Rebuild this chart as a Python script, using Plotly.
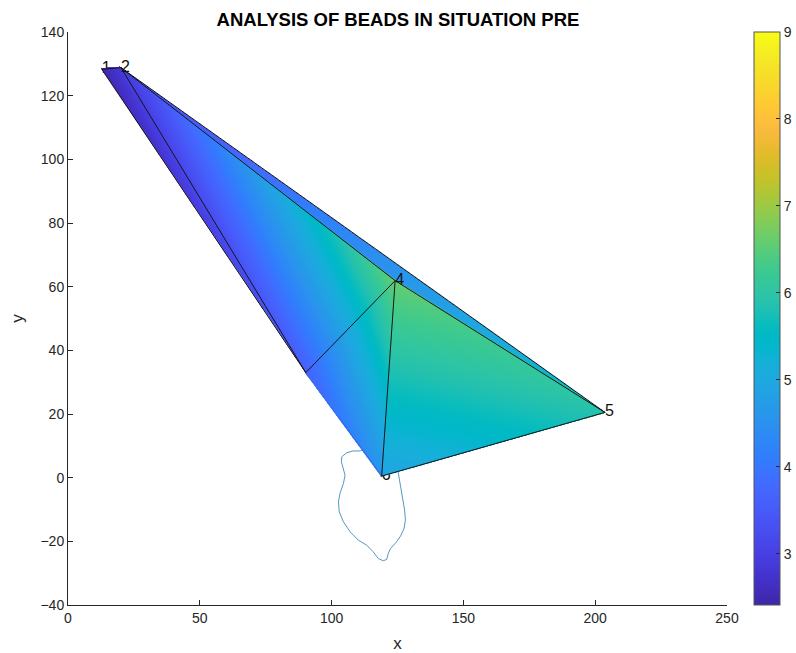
import numpy as np
import plotly.graph_objects as go

# ---------------- data ----------------
point_labels = ["1", "2", "3", "4", "5", "6"]
vertex_x = [12.8, 20.1, 90.2, 124.1, 203.7, 119.0]
vertex_y = [128.3, 128.8, 33.0, 61.9, 20.5, 0.5]

# triangles (0-based vertex indices) and the colour value at each corner
triangles = [(0, 1, 2), (1, 2, 3), (2, 3, 5), (3, 4, 5), (1, 3, 4)]
tri_values = [(2.45, 2.9, 3.5), (2.9, 3.6, 6.6), (3.6, 6.6, 4.6),
              (6.6, 5.9, 4.9), (3.1, 4.6, 5.6)]

# triangle edges drawn in black
edges = [(0, 1), (0, 2), (1, 2), (2, 3), (1, 3), (3, 5), (3, 4), (4, 5), (1, 4)]
# outer edge without a black line
soft_edges = [(2, 5)]

# outline curve below the mesh
outline_x = [110.8, 108.2, 105.7, 103.9, 103.7, 104.5, 105.1, 104.5, 103.2, 102.6,
             102.9, 104.5, 107.0, 110.1, 113.3, 115.8, 117.7, 119.6, 120.9, 121.5,
             122.4, 124.4, 126.2, 127.5, 128.0, 127.7, 126.9, 126.2, 125.7, 125.3,
             124.0, 120.0, 115.0, 110.8]
outline_y = [8.4, 8.4, 7.8, 6.6, 5.0, 2.9, 0.8, -1.8, -4.9, -7.6,
             -10.7, -13.9, -17.0, -19.6, -21.2, -23.3, -25.4, -26.1, -25.7, -23.8,
             -22.2, -20.4, -18.3, -15.9, -13.3, -10.2, -6.5, -3.4, -0.8, 1.5,
             6.0, 9.5, 10.0, 8.4]

labels_on_top = ["2", "4", "5"]

x_ticks = [0, 50, 100, 150, 200, 250]
y_ticks = [-40, -20, 0, 20, 40, 60, 80, 100, 120, 140]
c_ticks = [3, 4, 5, 6, 7, 8, 9]
c_min, c_max = 2.41, 9.0

# ---------------- parula colormap ----------------
parula = [
    (0.2422, 0.1504, 0.6603), (0.2504, 0.1650, 0.7076), (0.2578, 0.1818, 0.7511),
    (0.2647, 0.1978, 0.7952), (0.2706, 0.2147, 0.8364), (0.2751, 0.2342, 0.8710),
    (0.2783, 0.2559, 0.8991), (0.2803, 0.2782, 0.9221), (0.2813, 0.3006, 0.9414),
    (0.2810, 0.3228, 0.9579), (0.2795, 0.3447, 0.9717), (0.2760, 0.3667, 0.9829),
    (0.2699, 0.3892, 0.9906), (0.2602, 0.4123, 0.9952), (0.2440, 0.4358, 0.9988),
    (0.2206, 0.4603, 0.9973), (0.1963, 0.4847, 0.9892), (0.1834, 0.5074, 0.9798),
    (0.1786, 0.5289, 0.9682), (0.1764, 0.5499, 0.9520), (0.1687, 0.5703, 0.9359),
    (0.1540, 0.5902, 0.9218), (0.1460, 0.6091, 0.9079), (0.1380, 0.6276, 0.8973),
    (0.1248, 0.6459, 0.8883), (0.1113, 0.6635, 0.8763), (0.0952, 0.6798, 0.8598),
    (0.0689, 0.6948, 0.8394), (0.0297, 0.7082, 0.8163), (0.0036, 0.7203, 0.7917),
    (0.0067, 0.7312, 0.7660), (0.0433, 0.7411, 0.7394), (0.0964, 0.7500, 0.7120),
    (0.1408, 0.7584, 0.6842), (0.1717, 0.7670, 0.6554), (0.1938, 0.7758, 0.6251),
    (0.2161, 0.7843, 0.5923), (0.2470, 0.7918, 0.5567), (0.2906, 0.7973, 0.5188),
    (0.3406, 0.8008, 0.4789), (0.3909, 0.8029, 0.4354), (0.4456, 0.8024, 0.3909),
    (0.5044, 0.7993, 0.3480), (0.5616, 0.7942, 0.3045), (0.6174, 0.7876, 0.2612),
    (0.6720, 0.7793, 0.2227), (0.7242, 0.7698, 0.1910), (0.7738, 0.7598, 0.1646),
    (0.8203, 0.7498, 0.1535), (0.8634, 0.7406, 0.1596), (0.9035, 0.7330, 0.1774),
    (0.9393, 0.7288, 0.2100), (0.9728, 0.7298, 0.2394), (0.9956, 0.7434, 0.2371),
    (0.9970, 0.7659, 0.2199), (0.9952, 0.7893, 0.2028), (0.9892, 0.8136, 0.1885),
    (0.9786, 0.8386, 0.1766), (0.9676, 0.8639, 0.1643), (0.9610, 0.8890, 0.1537),
    (0.9597, 0.9135, 0.1423), (0.9628, 0.9373, 0.1265), (0.9691, 0.9606, 0.1064),
    (0.9769, 0.9839, 0.0805)]
n = len(parula)
colorscale = [[i / (n - 1), "rgb(%d,%d,%d)" % tuple(round(c * 255) for c in rgb)]
              for i, rgb in enumerate(parula)]

# ---------------- shaded mesh (linear shading inside each triangle) ----------------
gx = np.arange(min(vertex_x) - 0.5, max(vertex_x) + 0.5, 0.38)
gy = np.arange(min(vertex_y) - 0.5, max(vertex_y) + 0.5, 0.315)
GX, GY = np.meshgrid(gx, gy)
Z = np.full(GX.shape, np.nan)
eps = 0.004
for (a, b, c), (va, vb, vc) in zip(triangles, tri_values):
    x1, y1 = vertex_x[a], vertex_y[a]
    x2, y2 = vertex_x[b], vertex_y[b]
    x3, y3 = vertex_x[c], vertex_y[c]
    det = (y2 - y3) * (x1 - x3) + (x3 - x2) * (y1 - y3)
    l1 = ((y2 - y3) * (GX - x3) + (x3 - x2) * (GY - y3)) / det
    l2 = ((y3 - y1) * (GX - x3) + (x1 - x3) * (GY - y3)) / det
    l3 = 1 - l1 - l2
    inside = (l1 >= -eps) & (l2 >= -eps) & (l3 >= -eps) & np.isnan(Z)
    Z[inside] = (l1 * va + l2 * vb + l3 * vc)[inside]
Z = np.round(Z, 3)

fig = go.Figure()

label_font = dict(family="Liberation Sans, Arial, sans-serif", size=16, color="#111111")

# bottom layer: outline + occluded labels
fig.add_trace(go.Scatter(x=outline_x, y=outline_y, mode="lines",
                         line=dict(color="#5499c2", width=1), hoverinfo="skip",
                         showlegend=False))
low_idx = [i for i, t in enumerate(point_labels) if t not in labels_on_top]
fig.add_trace(go.Scatter(x=[vertex_x[i] for i in low_idx], y=[vertex_y[i] for i in low_idx],
                         text=[point_labels[i] for i in low_idx], mode="text",
                         textposition="middle right", textfont=label_font,
                         showlegend=False, hoverinfo="skip"))

# top layer: mesh, edges, visible labels
fig.add_trace(go.Heatmap(x=gx, y=gy, z=Z, coloraxis="coloraxis", xaxis="x2", yaxis="y2",
                         zsmooth="fast", hoverongaps=False))
sx, sy = [], []
for a, b in soft_edges:
    sx += [vertex_x[a], vertex_x[b], None]
    sy += [vertex_y[a], vertex_y[b], None]
fig.add_trace(go.Scatter(x=sx, y=sy, mode="lines", line=dict(color="rgb(48,112,236)", width=1.4),
                         xaxis="x2", yaxis="y2", showlegend=False, hoverinfo="skip"))
ex, ey = [], []
for a, b in edges:
    ex += [vertex_x[a], vertex_x[b], None]
    ey += [vertex_y[a], vertex_y[b], None]
fig.add_trace(go.Scatter(x=ex, y=ey, mode="lines", line=dict(color="#151515", width=1),
                         xaxis="x2", yaxis="y2", showlegend=False, hoverinfo="skip"))
top_idx = [i for i, t in enumerate(point_labels) if t in labels_on_top]
fig.add_trace(go.Scatter(x=[vertex_x[i] for i in top_idx], y=[vertex_y[i] for i in top_idx],
                         text=[point_labels[i] for i in top_idx], mode="text",
                         textposition="middle right", textfont=label_font,
                         xaxis="x2", yaxis="y2", showlegend=False, hoverinfo="skip"))

axis_color = "#262626"
font_family = "Liberation Sans, Arial, sans-serif"
common = dict(showline=True, linecolor=axis_color, linewidth=1, ticks="inside", ticklen=5,
              tickcolor=axis_color, showgrid=False, zeroline=False,
              tickfont=dict(family=font_family, size=14, color=axis_color))

fig.update_layout(
    width=796, height=653,
    margin=dict(l=68, r=69, t=32, b=48, autoexpand=False),
    paper_bgcolor="white", plot_bgcolor="white",
    title=dict(text="<b>ANALYSIS OF BEADS IN SITUATION PRE</b>", x=0.5, xanchor="center",
               y=1 - 20 / 653, yanchor="middle",
               font=dict(family=font_family, size=18.5, color="#000000")),
    xaxis=dict(range=[0, 250], tickvals=x_ticks,
               title=dict(text="x", standoff=14, font=dict(family=font_family, size=17,
                                                           color=axis_color)), **common),
    yaxis=dict(range=[-40, 140], tickvals=y_ticks,
               title=dict(text="y", standoff=12, font=dict(family=font_family, size=17,
                                                           color=axis_color)), **common),
    xaxis2=dict(overlaying="x", range=[0, 250], visible=False, anchor="y2"),
    yaxis2=dict(overlaying="y", range=[-40, 140], visible=False, anchor="x2"),
    coloraxis=dict(colorscale=colorscale, cmin=c_min, cmax=c_max,
                   colorbar=dict(x=(754 - 68) / 659, xanchor="left", xpad=0, ypad=0,
                                 y=0.5, yanchor="middle", len=1, lenmode="fraction",
                                 thickness=26, thicknessmode="pixels",
                                 outlinewidth=1, outlinecolor="#555555",
                                 tickvals=c_ticks, ticks="inside", ticklen=4,
                                 tickcolor=axis_color,
                                 tickfont=dict(family=font_family, size=14, color=axis_color))),
    showlegend=False,
)

fig.write_html("out.html")
